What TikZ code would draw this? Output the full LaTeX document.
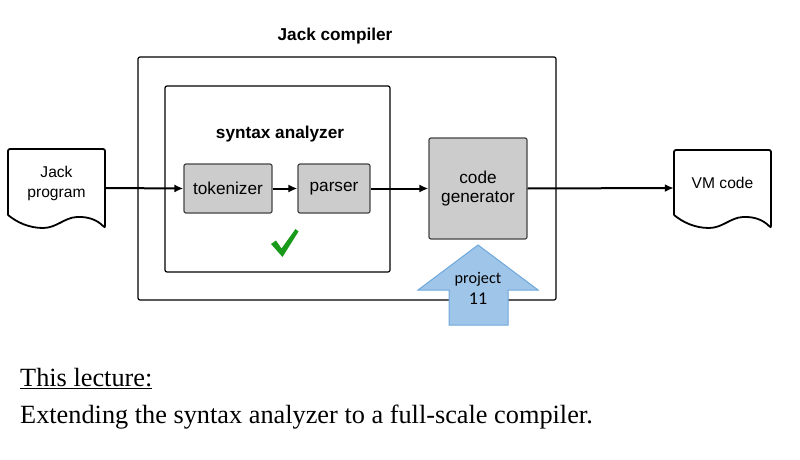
\documentclass[tikz,border=0pt]{standalone}
\usepackage{fontspec}
\setmainfont{Liberation Serif}
\setsansfont{Liberation Sans}
\newfontfamily\projfont{Carlito}
\usetikzlibrary{arrows.meta}
\definecolor{boxgray}{HTML}{CCCCCC}
\definecolor{boxline}{HTML}{444444}
\definecolor{projfill}{HTML}{9FC5E8}
\definecolor{projline}{HTML}{6FA8DC}
\definecolor{checkgreen}{HTML}{1A9A1A}
\tikzset{
  frame/.style={draw=black, line width=1.2pt, rounded corners=2pt},
  graybox/.style={draw=boxline, fill=boxgray, line width=1.2pt, rounded corners=2pt,
    font=\sffamily\fontsize{17.2}{20}\selectfont, align=center, inner sep=0pt},
  docnode/.style={inner sep=0pt, minimum width=97pt, minimum height=78pt},
  docline/.style={draw=black, line width=1.8pt, rounded corners=2pt},
  doctext/.style={font=\sffamily\fontsize{15.6}{19.5}\selectfont, align=center, inner sep=0pt},
  title/.style={font=\sffamily\bfseries\fontsize{17.2}{20}\selectfont, inner sep=0pt},
  conn/.style={draw=black, line width=2pt, -{Latex[length=9pt,width=8pt]}},
}
\begin{document}
\begin{tikzpicture}[x=1pt,y=-1pt]
\useasboundingbox (0,0) rectangle (800,460);

% frames
\node[title] (jctitle) at (335,36) {Jack compiler};
\node[frame, minimum width=418pt, minimum height=243pt, inner sep=0pt] (outer) at (347,178.5) {};
\node[frame, minimum width=225pt, minimum height=186pt, inner sep=0pt] (inner) at (277.5,179) {};
\node[title] (satitle) at (280,134) {syntax analyzer};

% gray boxes
\node[graybox, minimum width=88pt, minimum height=49pt] (tok) at (228,188.5) {tokenizer};
\node[graybox, minimum width=72pt, minimum height=49pt] (par) at (334,188.5) {parser};
\node[graybox, minimum width=98pt, minimum height=101pt] (cg) at (478,188.5) {code\\[-1pt]generator};

% documents
\node[docnode] (jp) at (56.5,188) {};
\draw[docline, shift={(jp.center)}]
  (-48.5,27) -- (-48.5,-39) -- (48.5,-39) -- (48.5,40)
  [rounded corners=0pt] .. controls (40,31) and (30,28.5) .. (20.5,29)
  .. controls (8,29.5) and (0,40) .. (-13.5,40)
  .. controls (-28,40) and (-40,34) .. (-48.5,27);
\node[doctext] (jptext) at (56.5,183.5) {Jack\\program};

\node[docnode] (vm) at (722.5,188) {};
\draw[docline, shift={(vm.center)}]
  (-48.5,27) -- (-48.5,-38) -- (48.5,-38) -- (48.5,40)
  [rounded corners=0pt] .. controls (40,31) and (30,28.5) .. (20.5,29)
  .. controls (8,29.5) and (0,40) .. (-13.5,40)
  .. controls (-28,40) and (-40,34) .. (-48.5,27);
\node[doctext] (vmtext) at (722.5,183) {VM code};

% connectors
\draw[conn] (jp.east) -- (tok.west);
\draw[conn] (tok.east) -- (par.west);
\draw[conn] (par.east) -- (cg.west);
\draw[conn] (cg.east) -- (vm.west);

% project arrow
\draw[draw=projline, fill=projfill, line width=1pt]
  (478,245) -- (538,290) -- (508,290) -- (508,325) -- (449,325) -- (449,290) -- (418,290) -- cycle;
\node[font=\projfont\fontsize{16.2}{18}\selectfont, inner sep=0pt] (projtxt) at (478,279) {project};
\node[font=\projfont\fontsize{18}{20}\selectfont, inner sep=0pt] (projnum) at (478,299) {11};

% check mark
\fill[checkgreen] (271,244) -- (276,240.5) -- (281.5,248.5) -- (295.5,229) -- (298.5,231.5) -- (282.5,257) -- cycle;

% bottom text
\node[anchor=base west, inner sep=0pt, font=\fontsize{26.3}{30}\selectfont] (lect) at (20,386) {\underline{This lecture:}};
\node[anchor=base west, inner sep=0pt, font=\fontsize{26.3}{30}\selectfont] (ext) at (20,423) {Extending the syntax analyzer to a full-scale compiler.};
\end{tikzpicture}
\end{document}
